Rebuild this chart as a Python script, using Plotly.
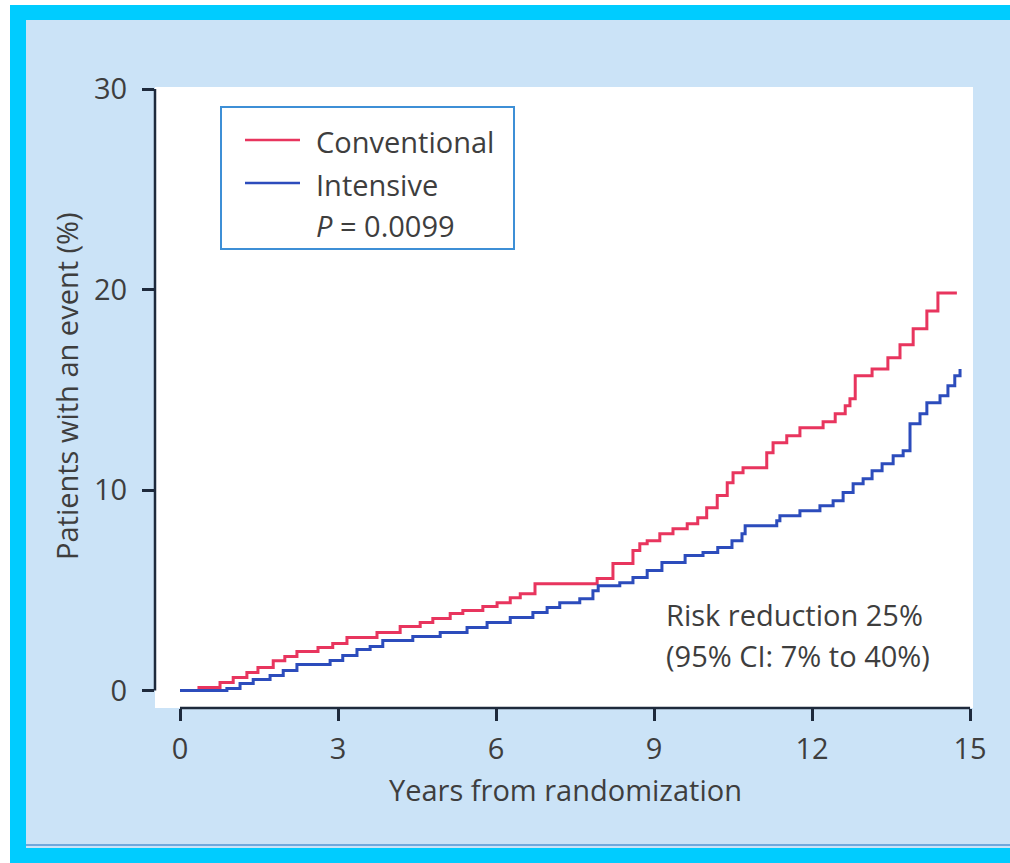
import plotly.graph_objects as go

# ---- data ----
conv_years = [0, 0.36, 0.76, 1.01, 1.27, 1.48, 1.77, 1.99, 2.22, 2.62, 2.90, 3.17, 3.74,
              4.18, 4.56, 4.80, 5.13, 5.37, 5.75, 6.02, 6.27, 6.46, 6.74, 7.92, 8.22,
              8.60, 8.73, 8.87, 9.11, 9.36, 9.63, 9.83, 10.00, 10.20, 10.39, 10.50,
              10.69, 11.14, 11.26, 11.52, 11.77, 12.21, 12.44, 12.63, 12.72, 12.82,
              13.14, 13.44, 13.67, 13.92, 14.18, 14.39, 14.75]
conv_pct = [0, 0.15, 0.40, 0.65, 0.90, 1.15, 1.49, 1.69, 1.94, 2.14, 2.34, 2.64, 2.89,
            3.19, 3.39, 3.59, 3.84, 3.99, 4.19, 4.38, 4.63, 4.83, 5.33, 5.58, 6.33,
            6.98, 7.32, 7.47, 7.82, 8.07, 8.32, 8.62, 9.12, 9.72, 10.36, 10.86,
            11.11, 11.86, 12.36, 12.71, 13.10, 13.40, 13.80, 14.20, 14.55, 15.70,
            16.04, 16.59, 17.24, 18.04, 18.93, 19.83, 19.83]

int_years = [0, 0.89, 1.14, 1.39, 1.71, 1.96, 2.22, 2.85, 3.09, 3.36, 3.61, 3.85, 4.42,
             4.94, 5.45, 5.83, 6.27, 6.70, 6.97, 7.21, 7.59, 7.84, 7.94, 8.35, 8.60,
             8.87, 9.15, 9.59, 9.93, 10.21, 10.48, 10.67, 10.73, 11.33, 11.39, 11.77,
             12.15, 12.40, 12.59, 12.78, 12.97, 13.14, 13.33, 13.54, 13.73, 13.86,
             14.05, 14.18, 14.43, 14.58, 14.71, 14.81]
int_pct = [0, 0.10, 0.35, 0.55, 0.75, 1.00, 1.30, 1.50, 1.74, 2.04, 2.19, 2.49, 2.69,
           2.89, 3.14, 3.39, 3.64, 3.89, 4.14, 4.38, 4.58, 4.98, 5.23, 5.38, 5.63,
           5.98, 6.38, 6.73, 6.88, 7.13, 7.47, 7.82, 8.22, 8.47, 8.72, 8.97,
           9.22, 9.47, 9.87, 10.31, 10.56, 10.96, 11.31, 11.71, 11.96, 13.30,
           13.80, 14.35, 14.70, 15.20, 15.70, 16.04]

x_ticks = [0, 3, 6, 9, 12, 15]
y_ticks = [0, 10, 20, 30]
series_names = ["Conventional", "Intensive"]
p_value_text = "<i>P</i> = 0.0099"
risk_lines = ["Risk reduction 25%", "(95% CI: 7% to 40%)"]
x_title = "Years from randomization"
y_title = "Patients with an event (%)"

# ---- styling ----
RED = "#E8355E"
BLUE = "#2C4CBC"
AXIS = "#1E2A3C"
TEXT = "#3E3E3E"
PANEL = "#CBE3F7"
CYAN = "#00CCFF"
FONT = "Open Sans"
FS = 29

W_PX, H_PX = 1010, 863
L, R, T, B = 155, 973, 87, 708
PW, PH = R - L, B - T


def px_x(p):
    return (p - L) / PW


def px_y(p):
    return (B - p) / PH


fig = go.Figure()
fig.add_trace(go.Scatter(x=conv_years, y=conv_pct, mode="lines", name=series_names[0],
                         line=dict(color=RED, width=3, shape="hv"), showlegend=False))
fig.add_trace(go.Scatter(x=int_years, y=int_pct, mode="lines", name=series_names[1],
                         line=dict(color=BLUE, width=3, shape="hv"), showlegend=False))

shapes = []
# outer cyan frame and light-blue panel
shapes.append(dict(type="rect", xref="paper", yref="paper", layer="below",
                   x0=px_x(10), x1=px_x(1010), y0=px_y(5), y1=px_y(863),
                   fillcolor=CYAN, line=dict(width=0)))
shapes.append(dict(type="rect", xref="paper", yref="paper", layer="below",
                   x0=px_x(26), x1=px_x(1010), y0=px_y(20), y1=px_y(848),
                   fillcolor=PANEL, line=dict(width=0)))
shapes.append(dict(type="line", xref="paper", yref="paper", layer="below",
                   x0=px_x(26), x1=px_x(1010), y0=px_y(845), y1=px_y(845),
                   line=dict(color="#6FA8DC", width=2)))
# white plotting field
shapes.append(dict(type="rect", xref="paper", yref="paper", layer="below",
                   x0=0, x1=1, y0=0, y1=1, fillcolor="white", line=dict(width=0)))
# detached axis lines
shapes.append(dict(type="line", xref="paper", yref="y", x0=0, x1=0,
                   y0=y_ticks[0], y1=y_ticks[-1], line=dict(color=AXIS, width=2.5)))
shapes.append(dict(type="line", xref="x", yref="paper", x0=x_ticks[0], x1=x_ticks[-1],
                   y0=0, y1=0, line=dict(color=AXIS, width=2.5)))
# legend box and samples
shapes.append(dict(type="rect", xref="paper", yref="paper",
                   x0=px_x(221), x1=px_x(514), y0=px_y(107), y1=px_y(249),
                   fillcolor="white", line=dict(color="#3D8FD6", width=2)))
shapes.append(dict(type="line", xref="paper", yref="paper",
                   x0=px_x(245), x1=px_x(300), y0=px_y(140), y1=px_y(140),
                   line=dict(color=RED, width=2.5)))
shapes.append(dict(type="line", xref="paper", yref="paper",
                   x0=px_x(245), x1=px_x(300), y0=px_y(183), y1=px_y(183),
                   line=dict(color=BLUE, width=2.5)))

font = dict(family=FONT, size=FS, color=TEXT)
annotations = []
for txt, yc in zip([series_names[0], series_names[1], p_value_text], [141, 184, 225]):
    annotations.append(dict(text=txt, xref="paper", yref="paper", x=px_x(314), y=px_y(yc),
                            xanchor="left", yanchor="middle", showarrow=False, font=font))
for txt, yc in zip(risk_lines, [614, 655]):
    annotations.append(dict(text=txt, xref="paper", yref="paper", x=px_x(664), y=px_y(yc),
                            xanchor="left", yanchor="middle", showarrow=False, font=font))
annotations.append(dict(text=x_title, xref="paper", yref="paper", x=px_x(565), y=px_y(789),
                        xanchor="center", yanchor="middle", showarrow=False, font=font))
annotations.append(dict(text=y_title, xref="paper", yref="paper", x=px_x(66), y=px_y(386),
                        xanchor="center", yanchor="middle", showarrow=False, textangle=-90,
                        font=font))

fig.update_layout(
    width=W_PX, height=H_PX,
    margin=dict(l=L, r=W_PX - R, t=T, b=H_PX - B, pad=0),
    paper_bgcolor="white", plot_bgcolor="rgba(0,0,0,0)",
    shapes=shapes, annotations=annotations, showlegend=False,
    xaxis=dict(range=[(L - 180) / 52.67, (R - 180) / 52.67], tickvals=x_ticks,
               ticktext=[str(v) for v in x_ticks], showgrid=False, zeroline=False,
               showline=False, ticks="outside", ticklen=12, tickwidth=2.5, tickcolor=AXIS,
               tickfont=dict(family=FONT, size=FS, color=TEXT), ticklabelstandoff=3),
    yaxis=dict(range=[(690.5 - B) / 20.05, (690.5 - T) / 20.05], tickvals=y_ticks,
               ticktext=[str(v) for v in y_ticks], showgrid=False, zeroline=False,
               showline=False, ticks="outside", ticklen=12, tickwidth=2.5, tickcolor=AXIS,
               tickfont=dict(family=FONT, size=FS, color=TEXT), ticklabelstandoff=9),
)

fig.write_html("out.html")
